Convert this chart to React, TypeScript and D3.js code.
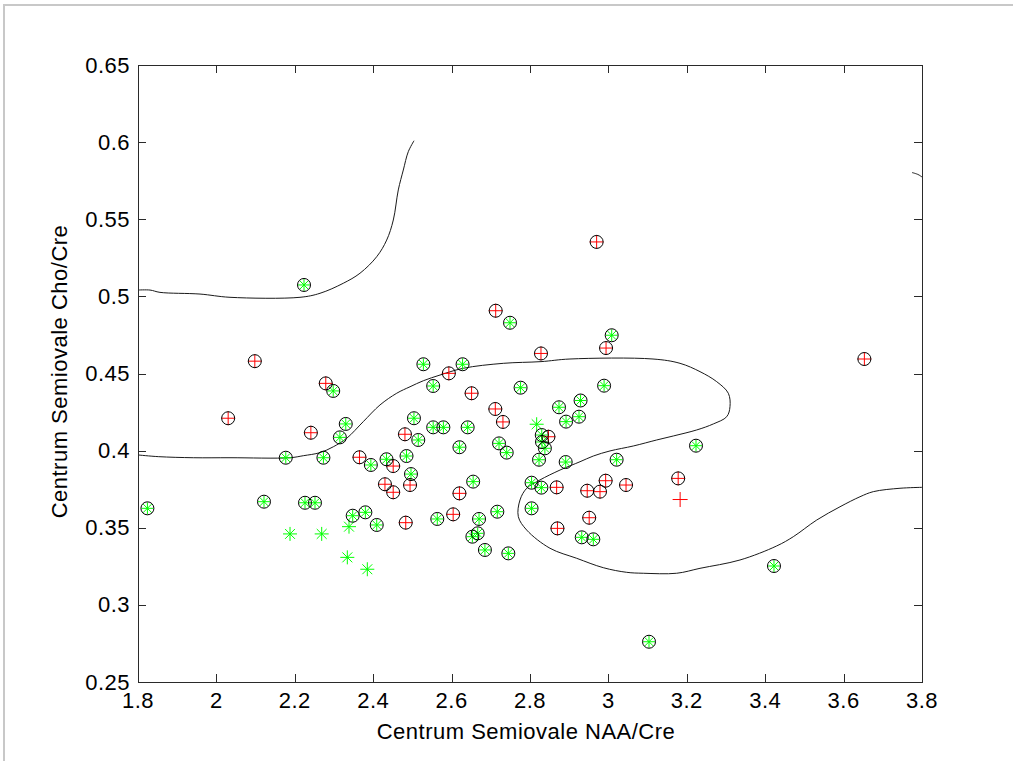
import React from "react";
import * as d3 from "d3";

// ---- Data ----
const xTicks = [1.8, 2.0, 2.2, 2.4, 2.6, 2.8, 3.0, 3.2, 3.4, 3.6, 3.8];
const xTickLabels = ["1.8", "2", "2.2", "2.4", "2.6", "2.8", "3", "3.2", "3.4", "3.6", "3.8"];
const yTicks = [0.25, 0.3, 0.35, 0.4, 0.45, 0.5, 0.55, 0.6, 0.65];
const yTickLabels = ["0.25", "0.3", "0.35", "0.4", "0.45", "0.5", "0.55", "0.6", "0.65"];

const xLabel = "Centrum Semiovale NAA/Cre";
const yLabel = "Centrum Semiovale Cho/Cre";

// class "+" (red) points that are support vectors (circled)
const redCircled: [number, number][] = [
  [2.098, 0.458], [2.030, 0.421], [2.279, 0.4436], [2.241, 0.4116], [2.481, 0.4106],
  [2.365, 0.3957], [2.451, 0.390], [2.430, 0.3782], [2.451, 0.373], [2.494, 0.3777],
  [2.483, 0.3533], [2.7125, 0.4907], [2.994, 0.4665], [2.828, 0.463], [2.593, 0.4501],
  [2.651, 0.4372], [2.7115, 0.427], [2.731, 0.4186], [2.847, 0.409], [2.620, 0.3723],
  [2.604, 0.3587], [2.868, 0.3762], [2.946, 0.374], [2.9786, 0.3734], [2.993, 0.3805],
  [3.045, 0.3777], [3.178, 0.382], [2.951, 0.3565], [2.870, 0.3496], [2.970, 0.5353],
  [3.653, 0.4594],
];
// class "+" (red) point without circle
const redPlain: [number, number][] = [[3.183, 0.3683]];

// class "*" (green) points that are support vectors (circled)
const greenCircled: [number, number][] = [
  [1.824, 0.3626], [2.2235, 0.5074], [2.1214, 0.3669], [2.177, 0.3954], [2.298, 0.4387],
  [2.330, 0.4173], [2.315, 0.4086], [2.273, 0.3954], [2.528, 0.456], [2.504, 0.421],
  [2.515, 0.4069], [2.394, 0.3907], [2.434, 0.3944], [2.485, 0.3965], [2.4964, 0.3848],
  [2.226, 0.3662], [2.2515, 0.3662], [2.3477, 0.3578], [2.380, 0.360], [2.409, 0.3518],
  [2.553, 0.4419], [2.628, 0.456], [2.749, 0.4829], [3.0084, 0.4748], [2.776, 0.4408],
  [2.989, 0.4421], [2.874, 0.4281], [2.929, 0.4325], [2.892, 0.4188], [2.925, 0.422],
  [2.553, 0.4151], [2.579, 0.4151], [2.641, 0.4151], [2.830, 0.4101], [2.8306, 0.4056],
  [2.838, 0.4015], [2.620, 0.4022], [2.721, 0.4047], [2.7406, 0.3987], [2.823, 0.3941],
  [2.891, 0.3926], [3.021, 0.3941], [3.2235, 0.4032], [2.655, 0.3799], [2.804, 0.3792],
  [2.829, 0.376], [2.5635, 0.3557], [2.670, 0.3557], [2.7166, 0.3604], [2.804, 0.3626],
  [2.653, 0.3442], [2.6666, 0.3464], [2.685, 0.3356], [2.7447, 0.3334], [2.932, 0.3438],
  [2.9615, 0.3425], [3.4224, 0.3252], [3.1036, 0.2761],
];
// class "*" (green) points without circle
const greenPlain: [number, number][] = [
  [2.1878, 0.346], [2.2686, 0.346], [2.3383, 0.3507], [2.334, 0.3308], [2.385, 0.3231],
  [2.817, 0.4171],
];

// decision boundary pieces
const boundaryUpper: [number, number][] = [
  [1.8, 0.5041], [1.8306, 0.5041], [1.8561, 0.5026], [1.9582, 0.5015], [2.0347, 0.4994],
  [2.2133, 0.4994], [2.2643, 0.502], [2.3237, 0.5085], [2.3663, 0.515], [2.4089, 0.5257],
  [2.4344, 0.5365], [2.4513, 0.5495], [2.464, 0.569], [2.4768, 0.5819], [2.4895, 0.5938],
  [2.5041, 0.6009],
];
const boundaryMiddle: [number, number][] = [
  [1.8, 0.3972], [1.8518, 0.3961], [1.9411, 0.3954], [2.0347, 0.3954], [2.1878, 0.3954],
  [2.2217, 0.3967], [2.2643, 0.3987], [2.2982, 0.4025], [2.3324, 0.408], [2.3747, 0.4188],
  [2.4173, 0.4296], [2.46, 0.4372], [2.4939, 0.4414], [2.5278, 0.4453], [2.5704, 0.449],
  [2.6298, 0.4534], [2.7319, 0.4566], [2.8281, 0.4577], [2.902, 0.4594], [3.1138, 0.4594],
  [3.1827, 0.4566], [3.2337, 0.4512], [3.2763, 0.4447], [3.3059, 0.4372], [3.3102, 0.4285],
  [3.3018, 0.422], [3.2676, 0.4173], [3.2253, 0.4134], [3.1656, 0.4095], [3.1232, 0.4069],
  [3.0635, 0.403], [3.0041, 0.3998], [2.9615, 0.3965], [2.9276, 0.3928], [2.8765, 0.3874],
  [2.8255, 0.381], [2.7916, 0.3756], [2.7745, 0.368], [2.7702, 0.3572], [2.7916, 0.3485],
  [2.851, 0.3367], [2.9191, 0.3302], [2.987, 0.3241], [3.0467, 0.3211], [3.089, 0.3205],
  [3.1742, 0.3205], [3.2337, 0.3237], [3.3357, 0.3291], [3.4293, 0.3382], [3.4717, 0.3442],
  [3.5314, 0.355], [3.5908, 0.3636], [3.6418, 0.3701], [3.6758, 0.3734], [3.7439, 0.3756],
  [3.8, 0.3762],
];
const boundaryRight: [number, number][] = [
  [3.7745, 0.5803], [3.79, 0.579], [3.8, 0.5774],
];

// ---- Layout ----
const W = 1013;
const H = 761;
const L = 138;
const R = 922;
const T = 65;
const B = 682;

const FONT = "'Liberation Sans', Arial, Helvetica, sans-serif";
const FS = 22;
const LS = 0.5;

export default function App() {
  const x = d3.scaleLinear().domain([1.8, 3.8]).range([L, R]);
  const y = d3.scaleLinear().domain([0.25, 0.65]).range([B, T]);
  const line = d3
    .line<[number, number]>()
    .x((d) => x(d[0]))
    .y((d) => y(d[1]))
    .curve(d3.curveCatmullRom.alpha(0.5));

  const plus = (cx: number, cy: number, a: number) =>
    `M${cx - a},${cy}H${cx + a}M${cx},${cy - a}V${cy + a}`;
  const star = (cx: number, cy: number, a: number) => {
    const b = a * 0.7071;
    return (
      plus(cx, cy, a) +
      `M${cx - b},${cy - b}L${cx + b},${cy + b}M${cx - b},${cy + b}L${cx + b},${cy - b}`
    );
  };

  const tickLen = 8;

  return (
    <div style={{ position: "absolute", left: 0, top: 0, width: W, height: H, background: "#fff" }}>
      <svg width={W} height={H} style={{ display: "block" }}>
        <rect x={0} y={0} width={W} height={H} fill="#ffffff" />
        {/* window frame */}
        <line x1={4} y1={5} x2={W} y2={5} stroke="#c8c8c8" strokeWidth={2} />
        <line x1={4} y1={4} x2={4} y2={H} stroke="#c8c8c8" strokeWidth={2} />

        {/* boundaries */}
        <g fill="none" stroke="#1a1a1a" strokeWidth={1}>
          <path d={line(boundaryUpper) || ""} />
          <path d={line(boundaryMiddle) || ""} />
          <path d={line(boundaryRight) || ""} />
        </g>

        {/* markers */}
        <g stroke="#ff0000" strokeWidth={1} fill="none">
          {redCircled.map((d, i) => (
            <path key={"rc" + i} d={plus(x(d[0]), y(d[1]), 7)} />
          ))}
          {redPlain.map((d, i) => (
            <path key={"rp" + i} d={plus(x(d[0]), y(d[1]), 7.5)} />
          ))}
        </g>
        <g stroke="#00ff00" strokeWidth={1} fill="none">
          {greenCircled.map((d, i) => (
            <path key={"gc" + i} d={star(x(d[0]), y(d[1]), 6)} />
          ))}
          {greenPlain.map((d, i) => (
            <path key={"gp" + i} d={star(x(d[0]), y(d[1]), 7)} />
          ))}
        </g>
        <g stroke="#000000" strokeWidth={1} fill="none">
          {redCircled.concat(greenCircled).map((d, i) => (
            <circle key={"c" + i} cx={x(d[0])} cy={y(d[1])} r={6.5} />
          ))}
        </g>

        {/* axes box */}
        <rect x={L + 0.5} y={T + 0.5} width={R - L} height={B - T} fill="none" stroke="#2a2a2a" strokeWidth={1} />
        <g stroke="#2a2a2a" strokeWidth={1}>
          {xTicks.map((t, i) => {
            const px = Math.round(x(t)) + 0.5;
            return (
              <g key={"xt" + i}>
                <line x1={px} y1={B} x2={px} y2={B - tickLen} />
                <line x1={px} y1={T} x2={px} y2={T + tickLen} />
              </g>
            );
          })}
          {yTicks.map((t, i) => {
            const py = Math.round(y(t)) + 0.5;
            return (
              <g key={"yt" + i}>
                <line x1={L} y1={py} x2={L + tickLen} y2={py} />
                <line x1={R} y1={py} x2={R - tickLen} y2={py} />
              </g>
            );
          })}
        </g>

        {/* tick labels */}
        <g fontFamily={FONT} fontSize={FS} letterSpacing={LS} fill="#000">
          {xTicks.map((t, i) => (
            <text key={"xl" + i} x={x(t)} y={708} textAnchor="middle">
              {xTickLabels[i]}
            </text>
          ))}
          {yTicks.map((t, i) => (
            <text key={"yl" + i} x={130} y={y(t) + 7.5} textAnchor="end">
              {yTickLabels[i]}
            </text>
          ))}
        </g>

        {/* axis labels */}
        <text
          x={(L + R) / 2 - 4}
          y={739}
          textAnchor="middle"
          fontFamily={FONT}
          fontSize={FS}
          letterSpacing={LS}
          fill="#000"
        >
          {xLabel}
        </text>
        <text
          transform={`translate(66.5,${(T + B) / 2 - 2}) rotate(-90)`}
          textAnchor="middle"
          fontFamily={FONT}
          fontSize={FS}
          letterSpacing={LS}
          fill="#000"
        >
          {yLabel}
        </text>
      </svg>
    </div>
  );
}
